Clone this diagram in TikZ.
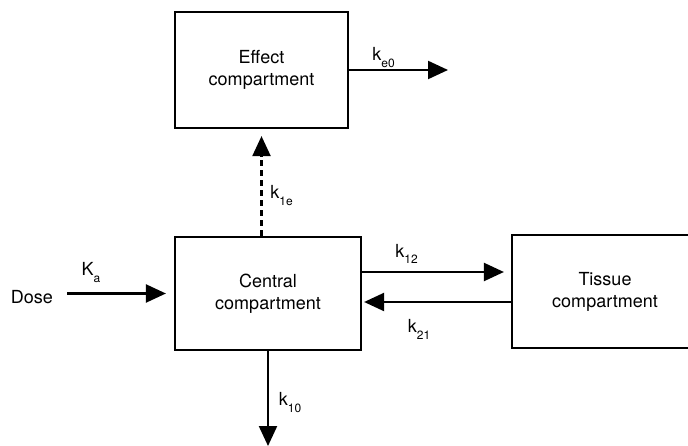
\documentclass[tikz,border=0pt]{standalone}
\usepackage{fontspec}
\setmainfont{TeX Gyre Heros}
\usetikzlibrary{positioning,arrows.meta}
\newcommand{\ksub}[2]{#1\raisebox{-0.35em}{\fontsize{12}{12}\selectfont #2}}

\begin{document}
\begin{tikzpicture}[x=1pt,y=-1pt,
    comp/.style={draw, line width=2.2pt, minimum width=186pt, minimum height=113pt,
      align=center, inner sep=0pt, font=\fontsize{18}{22}\selectfont},
    flecha/.style={line width=2.2pt, -{Triangle[length=20pt,width=18pt]}},
    etiq/.style={inner sep=0pt, font=\fontsize{18}{22}\selectfont}]
  \useasboundingbox (0,0) rectangle (688,446);

  % Compartimentos
  \node[comp, minimum width=173pt, minimum height=116pt] (effect) at (261.5,70) {Effect\\compartment};
  \node[comp] (central) at (268,293.5) {Central\\compartment};
  \node[comp] (tissue) at (605,291.5) {Tissue\\compartment};
  \node[etiq] (dose) at (32,297) {Dose};

  % Extremos libres
  \coordinate (dosestart) at (67,293.5);
  \coordinate (ke0end) at (448,70);
  \coordinate (k10end) at (268,446);

  % Flechas
  \draw[flecha, shorten >=8pt] (dosestart) -- (central.west);
  \draw[flecha] (effect.east) -- (ke0end);
  \draw[flecha, dash pattern=on 6pt off 4pt, shorten >=7pt] (effect.south |- central.north) -- (effect.south);
  \draw[flecha, shorten >=7pt] ([yshift=21.5pt]central.east) -- ([yshift=21.5pt]central.east -| tissue.west);
  \draw[flecha, shorten >=2pt] ([yshift=-8.5pt]central.east -| tissue.west) -- ([yshift=-8.5pt]central.east);
  \draw[flecha] (central.south) -- (k10end);

  % Constantes
  \node[etiq] (ka) at (91,272.5) {\ksub{K}{a}};
  \node[etiq] (ke0) at (383.5,57.5) {\ksub{k}{e0}};
  \node[etiq] (k1e) at (281.5,195.5) {\ksub{k}{1e}};
  \node[etiq] (k12) at (406.5,254) {\ksub{k}{12}};
  \node[etiq] (k21) at (419,329.5) {\ksub{k}{21}};
  \node[etiq] (k10) at (290,402.5) {\ksub{k}{10}};

\end{tikzpicture}
\end{document}
